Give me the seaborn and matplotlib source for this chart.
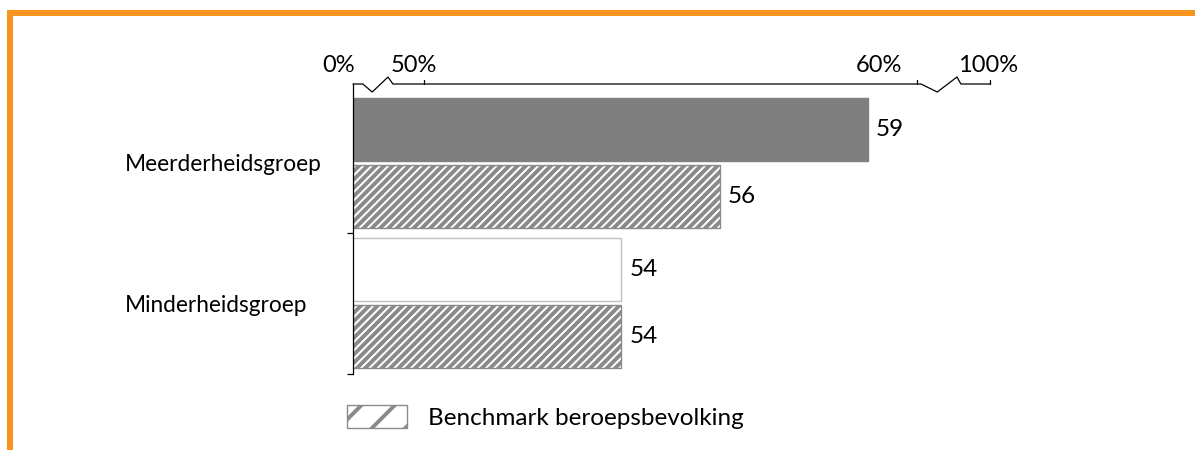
import pandas as pd
import seaborn as sns
import matplotlib.pyplot as plt
from matplotlib.patches import Patch, Rectangle

sns.set_style('white')
plt.rcParams['font.family'] = ['Lato', 'DejaVu Sans']
plt.rcParams['text.color'] = 'black'
plt.rcParams['xtick.color'] = 'black'
plt.rcParams['ytick.color'] = 'black'
plt.rcParams['hatch.linewidth'] = 2.8

groepen = ['Meerderheidsgroep', 'Minderheidsgroep']
reeksen = ['Groep', 'Benchmark beroepsbevolking']
groep_waarden = [59, 54]
benchmark_waarden = [56, 54]

# tick labels of the broken axis (0% .. 50% | 60% .. 100%)
as_labels = ['0%', '50%', '60%', '100%']
as_label_pos = [48.26, 49.80, 59.23, 61.44]  # plotted in the 50-60 scale
x_links, x_rechts = 48.56, 61.48              # where 0% and 100% end up

df = pd.DataFrame({
    'groep': groepen * 2,
    'reeks': [reeksen[0]] * 2 + [reeksen[1]] * 2,
    'waarde': groep_waarden + benchmark_waarden,
})

fig = plt.figure(figsize=(11.95, 4.5), dpi=100)
ax = fig.add_axes([353 / 1195, 1 - 374 / 450, 637 / 1195, 290 / 450])

sns.barplot(df, x='waarde', y='groep', hue='reeks', orient='h',
            width=0.957, gap=0.06, legend=False, ax=ax)

# colours per bar: own group dark grey / white, benchmark hatched
eigen, bench = ax.containers
eigen[0].set(facecolor='#7f7f7f', edgecolor='#7f7f7f', linewidth=1)
eigen[1].set(facecolor='white', edgecolor='#bfbfbf', linewidth=1)
for bar in bench:
    bar.set(facecolor='white', edgecolor='#8a8a8a', hatch='////', linewidth=1)

for cont in ax.containers:
    ax.bar_label(cont, fmt='%d', padding=6, fontsize=17.5, color='black')

ax.set_xlabel('')
ax.set_ylabel('')
ax.set_xticks([])
ax.set_xlim(x_links, x_rechts)
ax.set_ylim(1.507, -0.564)

# top axis with two breaks
xt = ax.get_xaxis_transform()
for lab, pos in zip(as_labels, as_label_pos):
    ax.text(pos, 1.0414, lab, transform=xt, ha='center', va='baseline',
            fontsize=17, clip_on=False)
lijn_x = [x_links, 48.76, 48.95, 49.27, 49.37, 60.08, 60.41, 60.81, 60.89, x_rechts]
lijn_y = [1, 1, 0.9724, 1.0241, 1, 1, 0.9724, 1.0241, 1, 1]
ax.plot(lijn_x, lijn_y, color='black', lw=0.9, transform=xt, clip_on=False)
for xv in [50, 60, x_rechts]:
    ax.plot([xv, xv], [1, 1.0138], color='black', lw=0.9, transform=xt, clip_on=False)

# y axis: labels at group centres, ticks between groups
for s in ['top', 'right', 'bottom']:
    ax.spines[s].set_visible(False)
ax.spines['left'].set_color('black')
ax.spines['left'].set_linewidth(0.9)
ax.tick_params(axis='y', length=0, pad=164, labelsize=16.3)
for lab in ax.get_yticklabels():
    lab.set_horizontalalignment('left')
ax.set_yticks([0.5, 1.507], minor=True)
ax.tick_params(axis='y', which='minor', left=True, length=4, width=0.9, color='black')
ax.set_xlim(x_links, x_rechts)

ax.legend(handles=[Patch(facecolor='white', edgecolor='#8a8a8a', hatch='/',
                         label=reeksen[1])],
          loc='center left', bbox_to_anchor=(347 / 1195, 1 - 417 / 450),
          bbox_transform=fig.transFigure, frameon=False, fontsize=17.5,
          handlelength=2.47, handleheight=1.03, handletextpad=0.86,
          borderpad=0, borderaxespad=0)

# orange frame on top and left
oranje = '#f7941e'
fig.add_artist(Rectangle((7 / 1195, 1 - 16 / 450), 1, 6 / 450,
                         transform=fig.transFigure, color=oranje, lw=0))
fig.add_artist(Rectangle((7 / 1195, 0), 6 / 1195, 1 - 10 / 450,
                         transform=fig.transFigure, color=oranje, lw=0))

fig.savefig('out.png', dpi=100)
